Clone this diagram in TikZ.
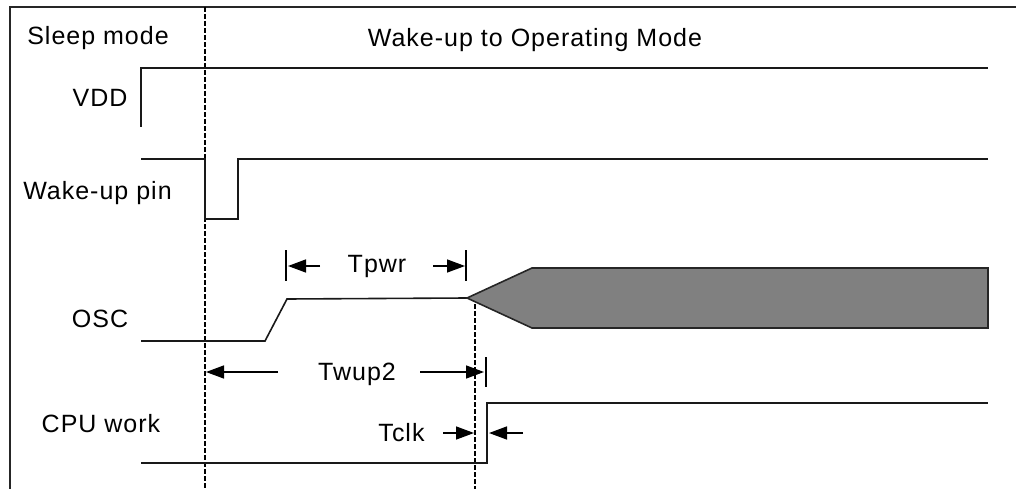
\documentclass[tikz,border=0pt]{standalone}
\usepackage{fontspec}
\setmainfont{Liberation Sans}[LetterSpace=4]
\usetikzlibrary{arrows.meta}
\tikzset{
  sig/.style={line width=1.6pt, black!90},
  frame/.style={line width=1.8pt, black!85},
  marker/.style={line width=2.6pt, dash pattern=on 5pt off 2pt},
  dimline/.style={line width=1.5pt, -{Triangle[length=18pt,width=13pt]}},
  tick/.style={line width=1.5pt},
  lbl/.style={font=\fontsize{25}{29}\selectfont, anchor=base, inner sep=0pt},
}
\begin{document}
\begin{tikzpicture}[x=1pt,y=-1pt]
\useasboundingbox (0,0) rectangle (1016,489);
% frame
\draw[frame] (1016,7) -- (10,7) -- (10,489);
% phase markers
\draw[marker] (205,7) -- (205,489);
\draw[marker] (475,297) -- (475,489);
% headers
\node[lbl] (sleep) at (98,45) {Sleep mode};
\node[lbl] (wake) at (535,47) {Wake-up to Operating Mode};
% labels
\node[lbl] (vdd) at (100,107) {VDD};
\node[lbl] (wpin) at (97.5,199) {Wake-up pin};
\node[lbl] (osc) at (100,327) {OSC};
\node[lbl] (cpu) at (101,432) {CPU work};
% VDD
\draw[sig] (141,127) -- (141,68) -- (988,68);
% Wake-up pin
\draw[sig] (141,159) -- (205,159) -- (205,219) -- (238,219) -- (238,159) -- (988,159);
% OSC
\draw[sig] (141,341) -- (265,341) -- (287,299) -- (467,298);
\draw[line width=1.6pt, draw=black!85, fill=black!50] (467,298) -- (532,268) -- (988,268) -- (988,328) -- (532,328) -- cycle;
% CPU work
\draw[sig] (141,463) -- (487,463) -- (487,403) -- (988,403);
% Tpwr
\draw[tick] (286,250) -- (286,281);
\draw[tick] (466,250) -- (466,281);
\coordinate (tpL1) at (320,266); \coordinate (tpL2) at (288,266);
\coordinate (tpR1) at (433,266); \coordinate (tpR2) at (465,266);
\draw[dimline] (tpL1) -- (tpL2);
\draw[dimline] (tpR1) -- (tpR2);
\node[lbl] (tpwr) at (377,272) {Tpwr};
% Twup2
\coordinate (twL1) at (278,372); \coordinate (twL2) at (206,372);
\coordinate (twR1) at (420,372); \coordinate (twR2) at (484,372);
\draw[dimline] (twL1) -- (twL2);
\draw[dimline] (twR1) -- (twR2);
\draw[tick] (486,357) -- (486,387);
\node[lbl] (twup) at (357,380) {Twup2};
% Tclk
\coordinate (tcL1) at (443,433); \coordinate (tcL2) at (474,433);
\coordinate (tcR1) at (523,433); \coordinate (tcR2) at (489,433);
\draw[dimline] (tcL1) -- (tcL2);
\draw[dimline] (tcR1) -- (tcR2);
\node[lbl] (tclk) at (401.5,441) {Tclk};
\end{tikzpicture}
\end{document}
